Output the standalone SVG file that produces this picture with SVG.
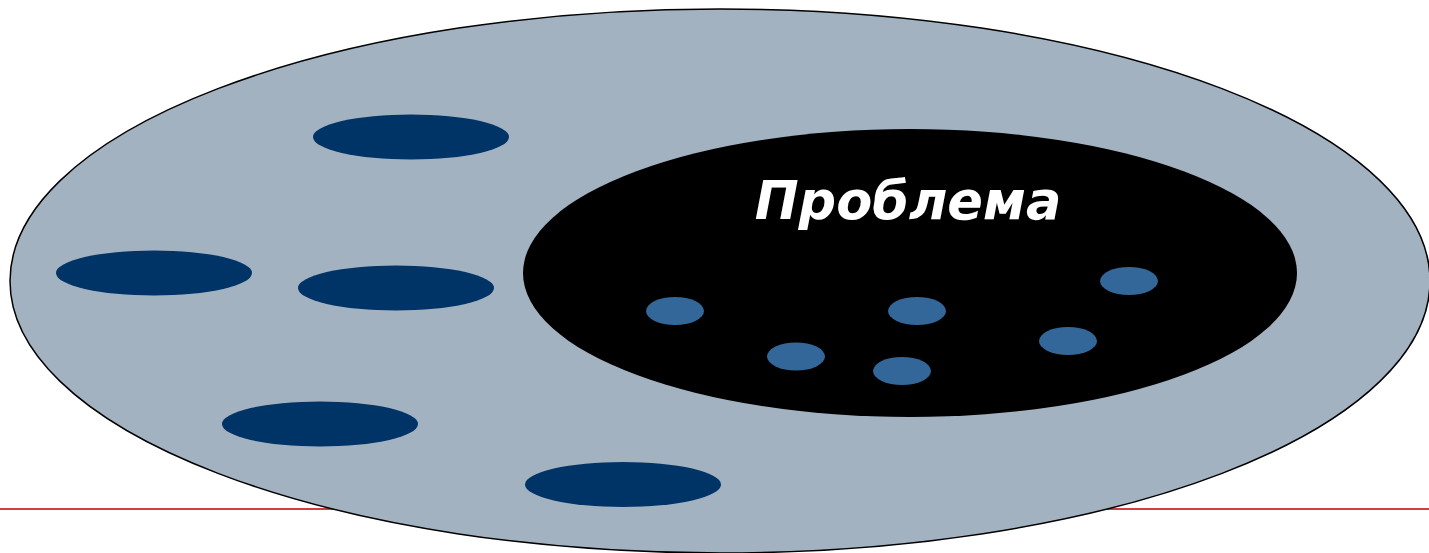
<svg xmlns="http://www.w3.org/2000/svg" width="1429" height="553" viewBox="0 0 1429 553">
<style>
.outer{fill:#a3b2c1;stroke:#000;stroke-width:1.5}
.item{fill:#003366}
.core{fill:#000}
.dot{fill:#336699}
.lbl{font-family:"DejaVu Sans",sans-serif;font-weight:bold;font-style:italic;font-size:52.5px;fill:#fff}
</style>
<line x1="0" y1="509" x2="1429" y2="509" stroke="#c00000" stroke-width="1.5"/>
<g id="outer"><ellipse class="outer" cx="720" cy="281" rx="710" ry="272"/></g>
<g id="item1"><ellipse class="item" cx="411" cy="137" rx="98" ry="22.5"/></g>
<g id="item2"><ellipse class="item" cx="154" cy="273" rx="98" ry="22.5"/></g>
<g id="item3"><ellipse class="item" cx="396" cy="288" rx="98" ry="22.5"/></g>
<g id="item4"><ellipse class="item" cx="320" cy="424" rx="98" ry="22.5"/></g>
<g id="item5"><ellipse class="item" cx="623" cy="484.5" rx="98" ry="22.5"/></g>
<g id="problem">
<ellipse class="core" cx="910" cy="273" rx="387" ry="144"/>
<text class="lbl" x="908" y="219" text-anchor="middle">Проблема</text>
</g>
<g id="dot1"><ellipse class="dot" cx="675" cy="311" rx="29" ry="14"/></g>
<g id="dot2"><ellipse class="dot" cx="796" cy="356.5" rx="29" ry="14"/></g>
<g id="dot3"><ellipse class="dot" cx="917" cy="311" rx="29" ry="14"/></g>
<g id="dot4"><ellipse class="dot" cx="902" cy="371" rx="29" ry="14"/></g>
<g id="dot5"><ellipse class="dot" cx="1068" cy="341" rx="29" ry="14"/></g>
<g id="dot6"><ellipse class="dot" cx="1129" cy="281" rx="29" ry="14"/></g>
<g id="connectors"/>
</svg>
